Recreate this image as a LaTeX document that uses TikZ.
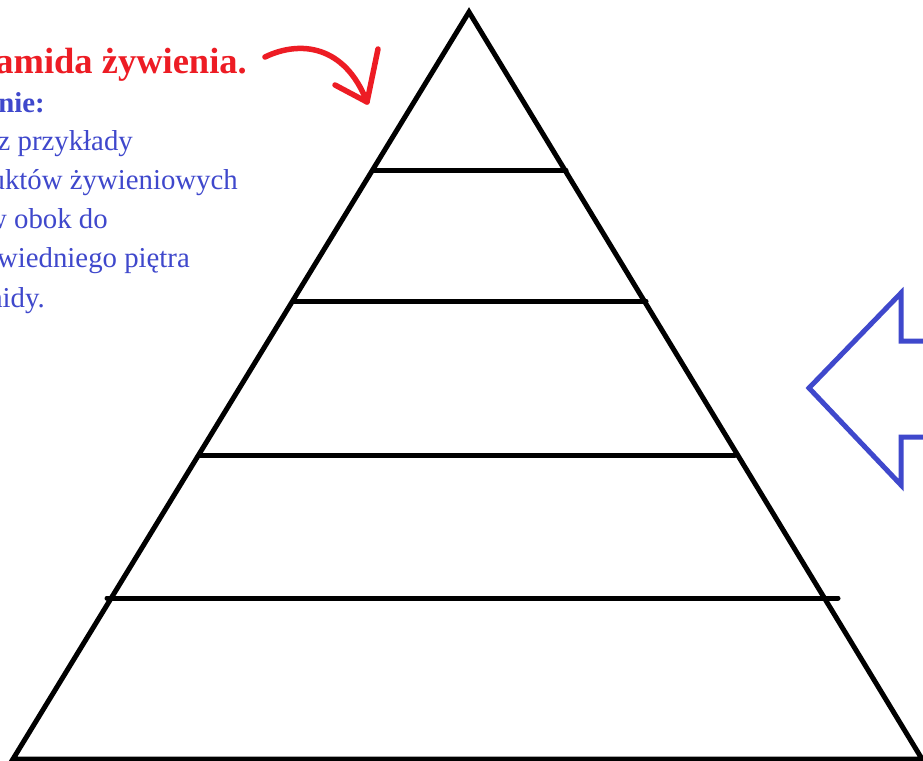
\documentclass[tikz,border=0pt]{standalone}
\usepackage{fontspec}
\setmainfont{Liberation Serif}
\definecolor{pred}{HTML}{ED1C24}
\definecolor{pblue}{HTML}{3F48CC}
\begin{document}
\begin{tikzpicture}[x=1pt,y=-1pt,
  edge/.style={line width=5pt,black,line cap=round,line join=round},
  txt/.style={inner sep=0pt,anchor=base east,text=pblue,font=\fontsize{28.8}{28.8}\selectfont},
  ttl/.style={inner sep=0pt,anchor=base east,text=pred,font=\fontsize{36.5}{36.5}\selectfont\bfseries}]
\useasboundingbox (0,0) rectangle (923,760);
\clip (0,0) rectangle (923,760);
\fill[white] (0,0) rectangle (923,760);
% pyramid
\coordinate (apex) at (469,12);
\coordinate (bl) at (13,759);
\coordinate (br) at (922,759);
\draw[edge,line cap=butt,line join=miter] (bl) -- (apex) -- (br) -- cycle;
\coordinate (l1a) at (373,170); \coordinate (l1b) at (566,170);
\coordinate (l2a) at (293,301); \coordinate (l2b) at (646,301);
\coordinate (l3a) at (200,455); \coordinate (l3b) at (735,455);
\coordinate (l4a) at (107,598); \coordinate (l4b) at (838,598);
\draw[edge] (l1a) -- (l1b);
\draw[edge] (l2a) -- (l2b);
\draw[edge] (l3a) -- (l3b);
\draw[edge] (l4a) -- (l4b);
% texts
\node[ttl] (title) at (247,74) {amida żywienia.};
\node[txt,font=\fontsize{28.8}{28.8}\selectfont\bfseries] (t0) at (45,112) {nie:};
\node[txt] (t1) at (133,150) {z przykłady};
\node[txt] (t2) at (238,189) {uktów żywieniowych};
\node[txt] (t3) at (108,228) {w obok do};
\node[txt] (t4) at (190,267) {wiedniego piętra};
\node[txt] (t5) at (45,307) {nidy.};
% red arrow
\coordinate (rs) at (265,57);
\coordinate (rt) at (367,102);
\coordinate (rh1) at (378,49);
\coordinate (rh2) at (335,85);
\draw[pred,line width=5.5pt,line cap=round,line join=round]
  (rs) .. controls (300,40) and (345,45) .. (rt);
\draw[pred,line width=5.5pt,line cap=round,line join=round] (rh1) -- (rt) -- (rh2);
% blue arrow
\draw[pblue,line width=5pt,line join=miter]
  (925,341) -- (901,341) -- (901,293) -- (809,388) -- (901,485) -- (901,437) -- (925,437);
\end{tikzpicture}
\end{document}
